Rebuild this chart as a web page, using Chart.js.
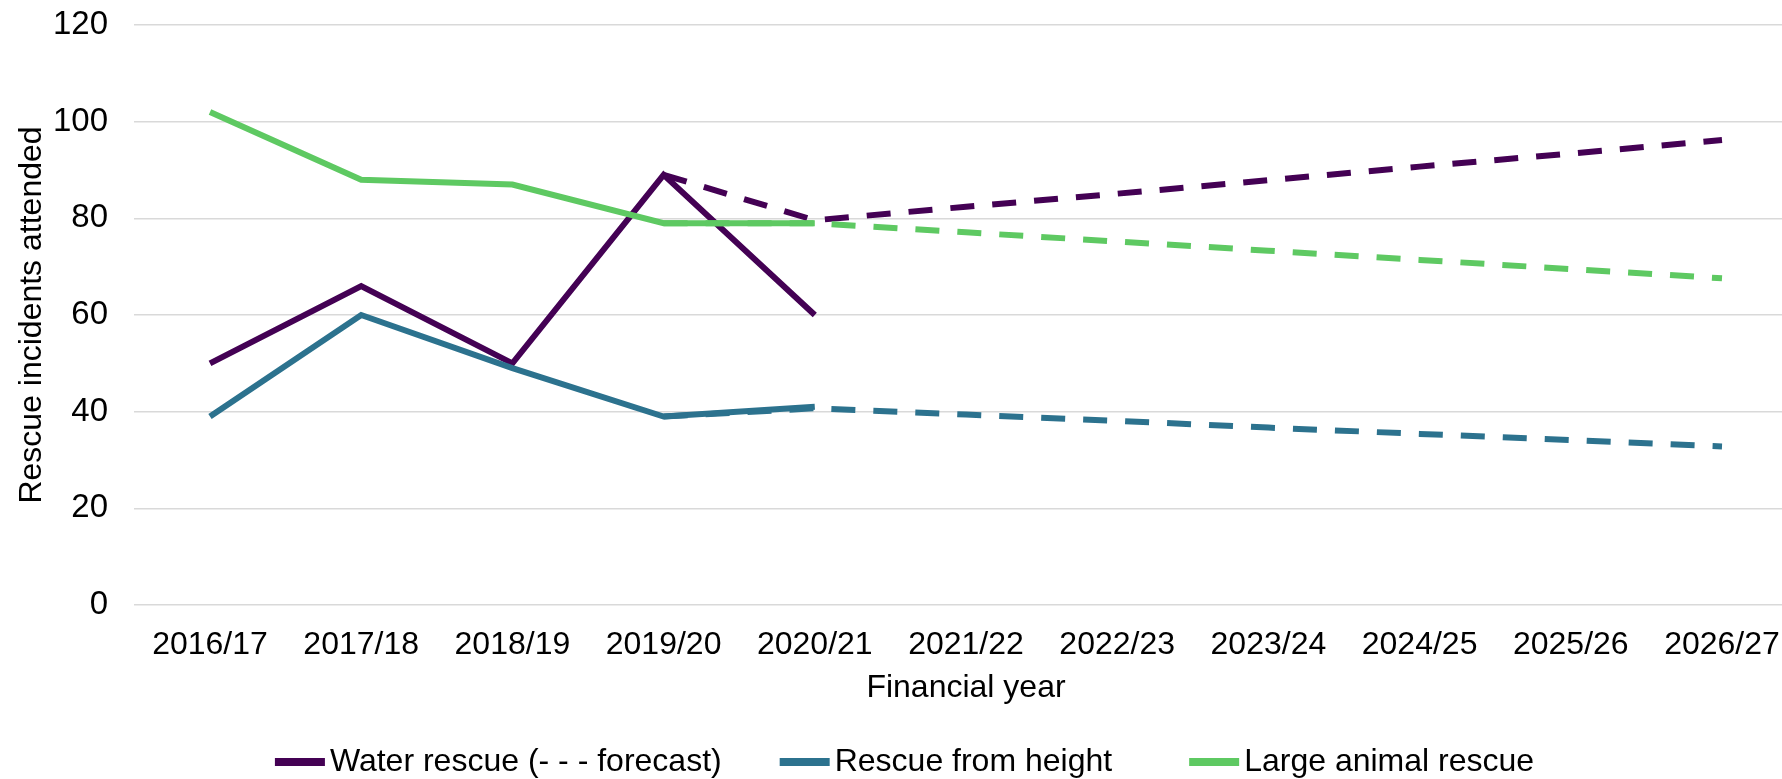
<!DOCTYPE html>
<html>
<head>
<meta charset="utf-8">
<script src="https://cdn.jsdelivr.net/npm/chart.js@4.4.1/dist/chart.umd.min.js"></script>
<style>
html,body{margin:0;padding:0;overflow:hidden;background:#ffffff;width:1782px;height:779px;}
#wrap{position:relative;width:1800px;height:779px;}
canvas{display:block;}
</style>
</head>
<body>
<div id="wrap"><canvas id="chart" width="1800" height="779" style="width:1800px;height:779px"></canvas></div>
<script>
// ---- data ----
const categories = ["2016/17","2017/18","2018/19","2019/20","2020/21","2021/22","2022/23","2023/24","2024/25","2025/26","2026/27"];
const waterRescue   = [50, 66, 50, 89, 60, null, null, null, null, null, null];
const heightRescue  = [39, 60, 49, 39, 41, null, null, null, null, null, null];
const animalRescue  = [102, 88, 87, 79, 79, null, null, null, null, null, null];
const waterForecast  = [null, null, null, 89, 79.6, 82.4, 85.1, 87.9, 90.7, 93.4, 96.2];
const heightForecast = [null, null, null, 39, 40.7, 39.4, 38.1, 36.7, 35.4, 34.1, 32.8];
const animalForecast = [null, null, null, 79, 79, 77.1, 75.2, 73.3, 71.4, 69.5, 67.6];
const seriesNames = ["Water rescue (- - - forecast)", "Rescue from height", "Large animal rescue"];
const yTicks = [0, 20, 40, 60, 80, 100, 120];
const xTitle = "Financial year";
const yTitle = "Rescue incidents attended";

const colors = ["#440154", "#2c728e", "#5ec962"];
const FONT = '"Liberation Sans", Arial, sans-serif';
const LW = 6;
const DASH = [24, 18];

function line(label, data, color, dashed, order) {
  return {
    label: label, data: data, borderColor: color, backgroundColor: color,
    borderWidth: LW, borderDash: dashed ? DASH : [],
    borderCapStyle: 'butt', borderJoinStyle: 'miter', pointRadius: 0, pointHoverRadius: 0,
    tension: 0, spanGaps: false, fill: false, order: order
  };
}

const legendPlugin = {
  id: 'bottomLegend',
  afterDraw(chart) {
    const ctx = chart.ctx;
    ctx.save();
    ctx.font = '32px ' + FONT;
    const sample = 50, textGap = 5, gaps = [58, 77], y = 762;
    const widths = seriesNames.map(t => sample + textGap + ctx.measureText(t).width);
    const total = widths.reduce((a, b) => a + b, 0) + gaps[0] + gaps[1];
    let x = chart.width / 2 - total / 2 + 4.5;
    seriesNames.forEach((t, i) => {
      ctx.strokeStyle = colors[i];
      ctx.lineWidth = 8;
      ctx.lineCap = 'butt';
      ctx.beginPath();
      ctx.moveTo(x, y);
      ctx.lineTo(x + sample, y);
      ctx.stroke();
      ctx.fillStyle = '#000000';
      ctx.textBaseline = 'middle';
      ctx.textAlign = 'left';
      ctx.fillText(t, x + sample + textGap, y);
      x += widths[i] + (gaps[i] || 0);
    });
    ctx.restore();
  }
};

new Chart(document.getElementById('chart'), {
  type: 'line',
  data: {
    labels: categories,
    datasets: [
      line(seriesNames[0], waterRescue, colors[0], false, 6),
      line(seriesNames[1], heightRescue, colors[1], false, 5),
      line(seriesNames[2], animalRescue, colors[2], false, 4),
      line(seriesNames[0] + ' forecast', waterForecast, colors[0], true, 3),
      line(seriesNames[1] + ' forecast', heightForecast, colors[1], true, 2),
      line(seriesNames[2] + ' forecast', animalForecast, colors[2], true, 1)
    ]
  },
  options: {
    responsive: false,
    animation: false,
    devicePixelRatio: 1,
    layout: { padding: { left: 0, top: 25, right: 2.4, bottom: 0 } },
    plugins: { legend: { display: false }, tooltip: { enabled: false }, title: { display: false } },
    scales: {
      x: {
        type: 'category',
        offset: true,
        grid: { display: false, drawTicks: false },
        border: { display: false },
        ticks: { color: '#000000', font: { family: FONT, size: 32 }, padding: 21.2, maxRotation: 0, autoSkip: false },
        title: { display: true, text: xTitle, color: '#000000', font: { family: FONT, size: 32 }, padding: { top: 0, bottom: 71.5 } },
        afterFit(s) { s.height = 174; s.paddingLeft = 0; s.paddingRight = 0; }
      },
      y: {
        min: 0, max: 120,
        afterBuildTicks(s) { s.ticks = yTicks.map(v => ({ value: v })); },
        grid: { color: '#d9d9d9', lineWidth: 1.5, drawTicks: false },
        border: { display: false },
        ticks: { color: '#000000', font: { family: FONT, size: 33 }, padding: 26.4 },
        title: { display: true, text: yTitle, color: '#000000', font: { family: FONT, size: 32 }, padding: { top: 13, bottom: 0 } },
        afterFit(s) { s.width = 134.4; s.paddingTop = 0; s.paddingBottom = 0; }
      }
    }
  },
  plugins: [legendPlugin]
});
</script>
</body>
</html>
